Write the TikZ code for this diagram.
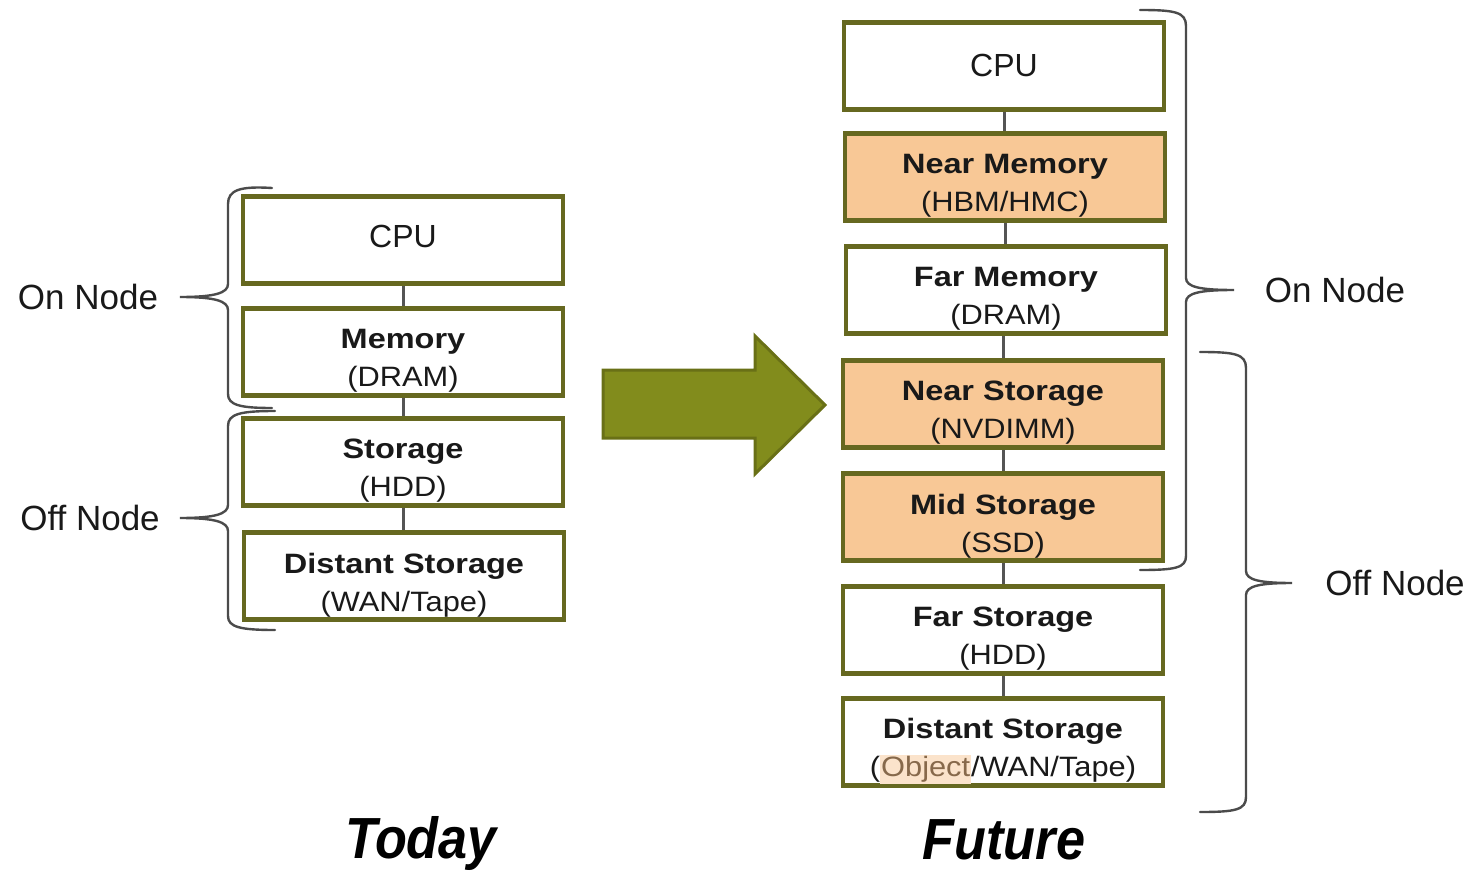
\documentclass[tikz,border=0pt]{standalone}
\usepackage{fontspec}
\setmainfont{Liberation Sans}
\newfontfamily\boxfont{Liberation Sans}[FakeStretch=1.1,BoldFeatures={FakeStretch=1.16}]
\newfontfamily\titlefont{Liberation Sans}[FakeStretch=0.9]
\definecolor{boxc}{RGB}{102,104,32}
\definecolor{hotc}{RGB}{248,200,150}
\definecolor{txtc}{RGB}{25,25,25}
\definecolor{linkc}{RGB}{85,85,85}
\definecolor{bracec}{RGB}{75,75,75}
\definecolor{arrowfill}{RGB}{130,140,28}
\definecolor{arrowdraw}{RGB}{105,112,22}
\definecolor{objbg}{RGB}{251,227,203}
\definecolor{objfg}{RGB}{135,105,75}
\newcommand\objhl[1]{{\setlength{\fboxsep}{0.5pt}\colorbox{objbg}{\textcolor{objfg}{#1}}}}
\tikzset{
 box/.style={draw=boxc, line width=2.2pt, minimum width=160pt, minimum height=43.5pt, inner sep=0pt, fill=white, text=txtc, font=\fontsize{16}{19}\selectfont},
 hot/.style={box, fill=hotc},
 lbl/.style={align=center, font=\boxfont\fontsize{14}{19}\selectfont, text=txtc, inner sep=0pt},
 cpulbl/.style={font=\fontsize{16}{19}\selectfont, text=txtc, inner sep=0pt},
 link/.style={draw=linkc, line width=1.5pt},
 brace/.style={draw=bracec, line width=1.2pt, line cap=round},
 side/.style={font=\fontsize{17.5}{20}\selectfont, text=txtc, inner sep=0pt},
 ttl/.style={font=\titlefont\bfseries\itshape\fontsize{29}{32}\selectfont, text=black, inner sep=0pt}
}
\begin{document}
\begin{tikzpicture}[x=0.5pt,y=-0.5pt]
\useasboundingbox (0,0) rectangle (1472,872);
% ---------- Today ----------
\node[box] (tcpu) at (403,240) {};
\node[box] (tmem) at (403,352) {};
\node[box] (tsto) at (403,462) {};
\node[box] (tdis) at (404,576) {};
\draw[link] (tcpu) -- (tmem);
\draw[link] (tmem) -- (tsto);
\draw[link] (tsto.south) -- (tsto.south |- tdis.north);
\node[cpulbl] (tcpuL) at ([yshift=2pt]tcpu.center) {CPU};
\node[lbl] (tmemL) at ([yshift=-4.5pt]tmem.center) {\bfseries Memory\\(DRAM)};
\node[lbl] (tstoL) at ([yshift=-4.5pt]tsto.center) {\bfseries Storage\\(HDD)};
\node[lbl] (tdisL) at ([yshift=-4.5pt]tdis.center) {\bfseries Distant Storage\\(WAN/Tape)};
% braces left
\draw[brace] (272,188) .. controls (240,186) and (228,190) .. (228,204) -- (228,284)
  .. controls (228,293) and (215,297) .. (180,297)
  .. controls (215,297) and (228,301) .. (228,310) -- (228,394)
  .. controls (228,405) and (240,408) .. (272,408);
\draw[brace] (275,411) .. controls (240,411) and (228,414) .. (228,426) -- (228,505)
  .. controls (228,514) and (215,518) .. (180,518)
  .. controls (215,518) and (228,522) .. (228,531) -- (228,616)
  .. controls (228,627) and (240,630) .. (275,630);
\node[side] (tOn) at (88,297) {On Node};
\node[side] (tOff) at (90,518) {Off Node};
\node[ttl] (today) at (421,843) {Today};
% ---------- Arrow ----------
\filldraw[fill=arrowfill, draw=arrowdraw, line width=1.5pt, line join=miter]
  (603,370) -- (755,370) -- (755,336) -- (825,405) -- (755,474) -- (755,438) -- (603,438) -- cycle;
% ---------- Future ----------
\node[box] (fcpu) at (1004,66) {};
\node[hot] (fnm) at (1005,177) {};
\node[box] (ffm) at (1006,290) {};
\node[hot] (fns) at (1003,404) {};
\node[hot] (fms) at (1003,517) {};
\node[box] (ffs) at (1003,630) {};
\node[box] (fds) at (1003,742) {};
\draw[link] (fcpu.south) -- (fcpu.south |- fnm.north);
\draw[link] (fnm.south) -- (fnm.south |- ffm.north);
\draw[link] (fns.north) -- (fns.north |- ffm.south);
\draw[link] (fns) -- (fms);
\draw[link] (fms) -- (ffs);
\draw[link] (ffs) -- (fds);
\node[cpulbl] (fcpuL) at ([yshift=0.5pt]fcpu.center) {CPU};
\node[lbl] (fnmL) at ([yshift=-4.5pt]fnm.center) {\bfseries Near Memory\\(HBM/HMC)};
\node[lbl] (ffmL) at ([yshift=-4.5pt]ffm.center) {\bfseries Far Memory\\(DRAM)};
\node[lbl] (fnsL) at ([yshift=-4.5pt]fns.center) {\bfseries Near Storage\\(NVDIMM)};
\node[lbl] (fmsL) at ([yshift=-4.5pt]fms.center) {\bfseries Mid Storage\\(SSD)};
\node[lbl] (ffsL) at ([yshift=-4.5pt]ffs.center) {\bfseries Far Storage\\(HDD)};
\node[lbl] (fdsL) at ([yshift=-4.5pt]fds.center) {\bfseries Distant Storage\\(\objhl{Object}/WAN/Tape)};
% braces right
\draw[brace] (1140,10) .. controls (1175,10) and (1186,12) .. (1186,26) -- (1186,278)
  .. controls (1186,287) and (1200,290) .. (1234,290)
  .. controls (1200,290) and (1186,293) .. (1186,302) -- (1186,556)
  .. controls (1186,568) and (1175,570) .. (1140,570);
\draw[brace] (1200,352) .. controls (1235,352) and (1246,354) .. (1246,368) -- (1246,571)
  .. controls (1246,580) and (1260,583) .. (1292,583)
  .. controls (1260,583) and (1246,586) .. (1246,595) -- (1246,797)
  .. controls (1246,810) and (1235,812) .. (1200,812);
\node[side] (fOn) at (1335,290) {On Node};
\node[side] (fOff) at (1395,583) {Off Node};
\node[ttl] (future) at (1004,840) {Future};
\end{tikzpicture}
\end{document}
